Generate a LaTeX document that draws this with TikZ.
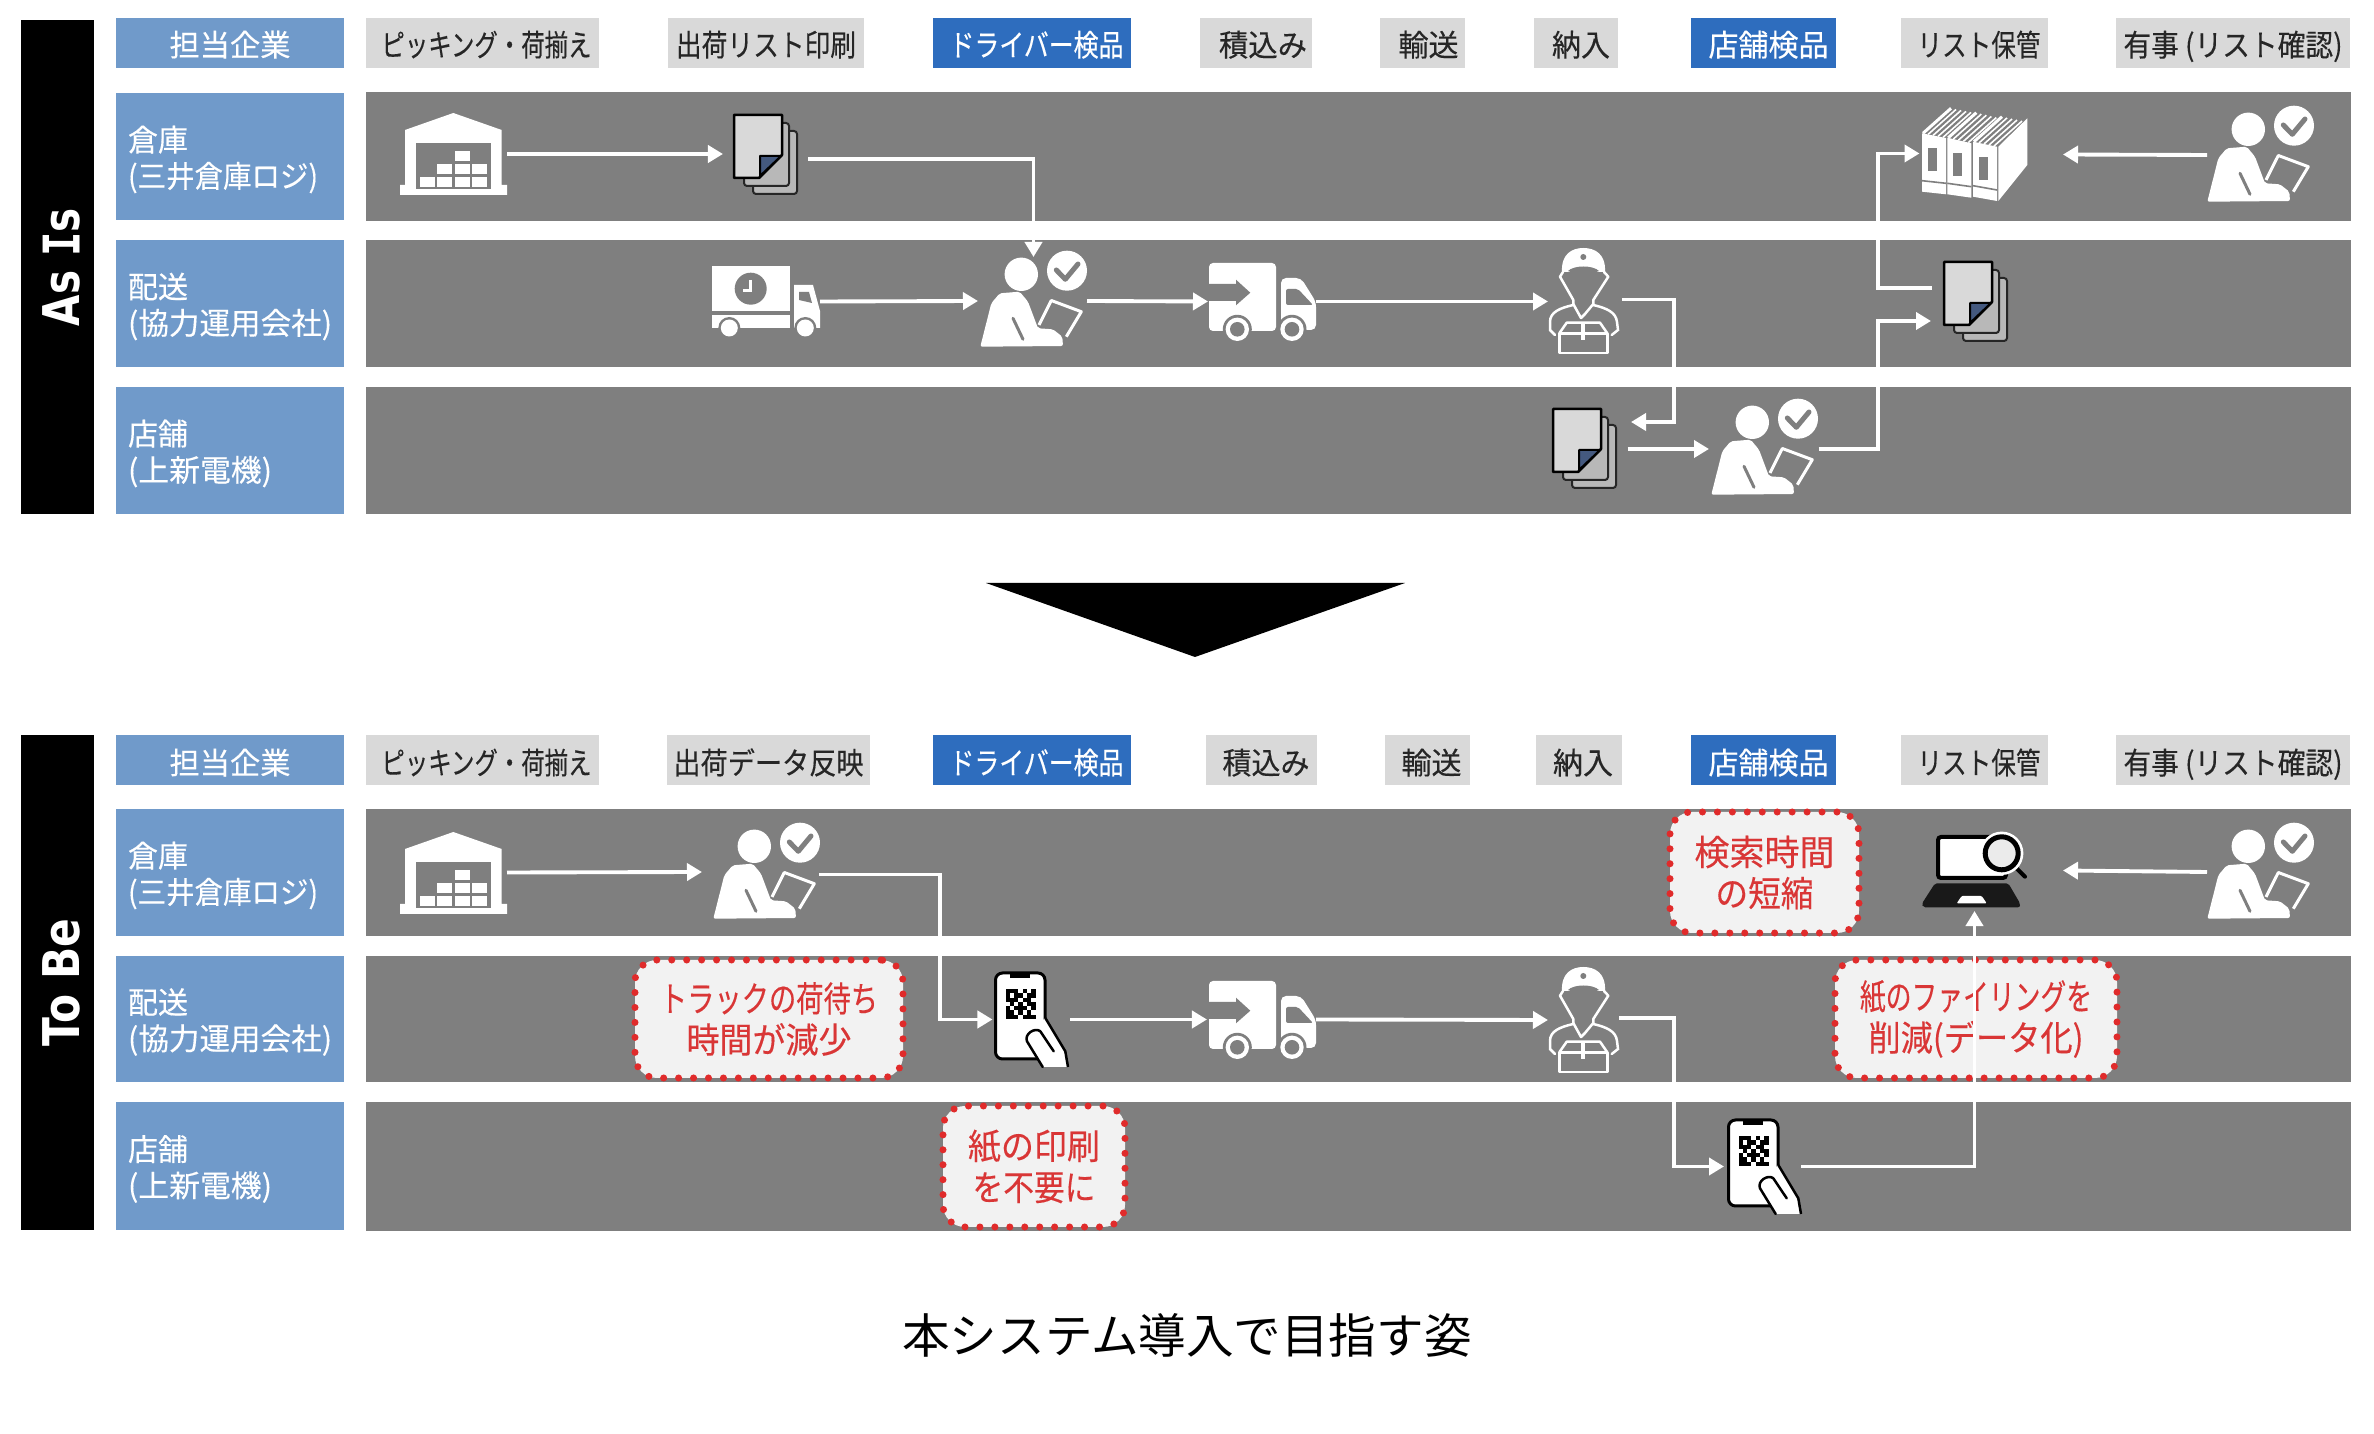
\documentclass[tikz,border=0pt]{standalone}
\usepackage{fontspec}
\setmainfont{Noto Sans CJK JP}[FakeBold=0.3]
\newfontfamily\capfont{Noto Sans CJK JP}
\newfontfamily\barsans{DejaVu Sans}
\newfontfamily\barmono{DejaVu Sans Mono}
\usetikzlibrary{arrows.meta,calc}
\newcommand\px{0.01cm}
\definecolor{bandgray}{HTML}{7F7F7F}
\definecolor{labelblue}{HTML}{709ACA}
\definecolor{headgray}{HTML}{D9D9D9}
\definecolor{headblue}{HTML}{2E6DBE}
\definecolor{callred}{HTML}{E02B2B}
\definecolor{calltext}{HTML}{D93636}
\definecolor{callfill}{HTML}{F2F2F2}
\definecolor{foldblue}{HTML}{44597F}
\newlength\nxu \setlength\nxu{0.569pt}
\newcommand\nx[1]{\hspace*{#1\nxu}}
\newcommand\fitw[2]{\sbox0{#2}\pgfmathsetmacro\fitr{#1*0.28453/(\the\wd0)}\scalebox{\fitr}[1]{\usebox0}}
\newcommand\hdfont{\fontsize{8.6pt}{10.3pt}\selectfont}
\newcommand\bx[7]{\node[#1,minimum width={(#5-(#3))*\px},minimum height={(#6-(#4))*\px}] (#2) at ({(#3+#5)/2},{(#4+#6)/2}) {#7};}
\tikzset{
  base/.style={inner sep=0pt,outer sep=0pt},
  bandbox/.style={base,fill=bandgray},
  iconbox/.style={base},
  barbox/.style={base,fill=black,text=white},
  headbox/.style={base,fill=labelblue,text=white,font=\hdfont,text height=7.5pt,text depth=0pt},
  stepgray/.style={base,fill=headgray,text=black!85,font=\hdfont,text height=7.5pt,text depth=0pt},
  stepblue/.style={base,fill=headblue,text=white,font=\hdfont,text height=7.5pt,text depth=0pt},
  tb/.style={text height=8pt},
  rowbox/.style={base,fill=labelblue},
  rowtext/.style={base,anchor=west,text=white,font=\hdfont,align=left},
  callout/.style={base,draw=callred,fill=callfill,line width=2pt,dash pattern=on 0pt off 4.25pt,line cap=round,rounded corners=2.2mm,align=center,text=calltext,font=\fontsize{10pt}{11.7pt}\selectfont},
  flow/.style={draw=white,line width=1.1pt,-{Triangle[length=1.5mm,width=1.7mm]}},
  warehouse/.pic={
    \fill[white] (5,17)--(53.3,0)--(101.7,17)--(101.7,72)--(107,72)--(107,82)--(0,82)--(0,72)--(5,72)--cycle;
    \fill[bandgray] (16,30) rectangle (91,76);
    \foreach \a/\b in {20/64,37.3/64,55/64,72.3/64,37.3/51,55/51,72.3/51,55/38}{
      \fill[white] (\a,\b) rectangle ++(14.5,10);}
  },
  docstack/.pic={
    \draw[black!85,fill=headgray!85!black,line width=2*\px,rounded corners=3*\px] (20,17) rectangle (64,80);
    \draw[black!85,fill=headgray!85!black,line width=2*\px,rounded corners=3*\px] (11,9) rectangle (56,72);
    \draw[black,fill=headgray,line width=2.5*\px,line join=round] (1,1)--(49,1)--(49,41)--(26,64)--(1,64)--cycle;
    \draw[black,fill=foldblue,line width=2*\px,line join=round] (27,62)--(27,42)--(48,42)--cycle;
  },
  person/.pic={
    \fill[white] (41.3,22.3) circle (16.7);
    \fill[white] (87,18.7) circle (20);
    \draw[bandgray,line width=5*\px,line join=round,line cap=round] (76.3,18)--(85.3,27.3)--(98,12);
    \fill[white,rounded corners=2*\px] (0.3,94.7)--(11.3,51.3)--(19.7,41.3)--(39.7,39.7)--(48,49.7)--(58,76.3)--(73,77.3)--(82.3,84.7)--(83,94)--cycle;
    \draw[bandgray,line width=3*\px,line cap=round] (33,66.3)--(43,87.3);
    \draw[white,line width=3*\px,line join=round] (59,73)--(71.3,48.5)--(101.3,59.7)--(86.3,84.7);
  },
  clocktruck/.pic={
    \fill[white] (0,0) rectangle (78,45);
    \fill[white] (0,49) rectangle (78,62);
    \fill[bandgray] (38.7,22.7) circle (16);
    \draw[white,line width=2.5*\px] (38.7,14)--(38.7,24.3)--(30.7,24.3);
    \fill[white] (82,19)--(101,19)--(108,45)--(108,62)--(82,62)--cycle;
    \fill[bandgray] (87,26)--(97,26)--(100,37)--(87,34)--cycle;
    \foreach \a in {17.3,93.3}{
      \fill[bandgray] (\a,62) circle (11);
      \fill[white] (\a,62) circle (8.5);}
  },
  cargotruck/.pic={
    \fill[white,rounded corners=4*\px] (0,1) rectangle (67,69);
    \fill[bandgray] (-0.5,22)--(27,22)--(27,17.7)--(41.3,30.7)--(27,43.3)--(27,39)--(-0.5,39)--cycle;
    \fill[white,rounded corners=5*\px] (72,16)--(92,16)--(107,40)--(107,68)--(72,68)--cycle;
    \fill[bandgray,rounded corners=2*\px] (77,27)--(89,27)--(104,43)--(77,43)--cycle;
    \foreach \a in {28.3,83}{
      \fill[bandgray] (\a,67.3) circle (14.5);
      \fill[white] (\a,67.3) circle (11.7);
      \fill[bandgray] (\a,67.3) circle (7.3);}
  },
  courier/.pic={
    \fill[white] (14,24) .. controls (13,6) and (24,0) .. (35.3,0) .. controls (47,0) and (58,6) .. (57,24) -- cycle;
    \fill[bandgray] (35.3,9) circle (3);
    \fill[bandgray] (20,23) .. controls (26,17) and (45,17) .. (51,23) .. controls (45,26) and (26,26) .. (20,23) -- cycle;
    \draw[white,line width=2.5*\px,line join=round,line cap=round] (15,24)--(12,28.7)--(25.3,52)--(25.3,57);
    \draw[white,line width=2.5*\px,line join=round,line cap=round] (56,24)--(60.3,28.7)--(45.3,52)--(45.3,57);
    \draw[white,line width=2.5*\px,line join=round,line cap=round] (25.3,56)--(33,70)--(37,66)--(45.3,56);
    \draw[white,line width=2.5*\px,line cap=round] (25.3,57) .. controls (12,60) and (2,64) .. (2,74) -- (2,82) -- (7,87);
    \draw[white,line width=2.5*\px,line cap=round] (45.3,57) .. controls (58,60) and (68,64) .. (69,74) -- (70,82) -- (63.7,87);
    \draw[white,line width=2.5*\px,line join=round] (11.3,85.3) rectangle (59.3,105);
    \draw[white,line width=2.5*\px,line join=round] (11.3,85.3)--(18.7,74.7)--(52,74.7)--(59.3,85.3);
    \draw[white,line width=4*\px] (35.3,75)--(35.3,92);
  },
  binders/.pic={
    \foreach \xa/\ta/\tb/\ba/\bb in {0/26.3/31/84.7/87.3,25.3/30.7/36.3/87.3/90.7,51/34.7/39.7/89.7/94}{
      \foreach \t in {6,11,16,21}{
        \draw[white,line width=1.6*\px] ({\xa+\t},{\ta+(\tb-\ta)*\t/24}) -- ++(28,-25);}
      \draw[white,line width=3*\px] (\xa+1,\ta) -- ++(28,-25);
      \fill[white] (\xa,\ta) -- ({\xa+24},\tb) -- ({\xa+24},\bb) -- (\xa,\ba) -- cycle;
      \fill[bandgray] ({\xa+6},{\ta+15}) rectangle ({\xa+15},{\ta+38});
      \draw[bandgray,line width=1.6*\px] (\xa,{\ba-11}) -- ({\xa+24},{\bb-11});
    }
    \fill[white] (76.3,39.7)--(105.3,11.3)--(105.3,58)--(76.3,94)--cycle;
  },
  phone/.pic={
    \draw[black,fill=white,line width=3*\px,rounded corners=7*\px] (0.5,1) rectangle (50,87);
    \fill[black] (15.3,1) rectangle (35.3,6);
    \foreach \a/\b in {0/0,1/0,2/0,4/0,6/0,0/1,2/1,3/1,5/1,6/1,0/2,1/2,2/2,4/2,5/2,1/3,3/3,5/3,6/3,0/4,2/4,3/4,4/4,6/4,0/5,1/5,3/5,5/5,0/6,1/6,2/6,4/6,5/6,6/6}{
      \fill[black] ({10.5+\a*4.3},{17+\b*4.3}) rectangle ++(4.3,4.3);}
    \fill[white] (50.3,46)--(70.3,79.3)--(73,95)--(47.7,95)--(32,69.3)--(38,57)--cycle;
    \draw[black,line width=2.5*\px,line join=round] (50.3,46)--(70.3,79.3)--(73,95);
    \draw[black,line width=2.5*\px,line join=round,line cap=round] (47.7,95)--(32,69.3) .. controls (29,62) and (40,55) .. (45.3,59.3)--(58.7,79.3);
  },
  laptop/.pic={
    \draw[black,fill=white,line width=4*\px,rounded corners=3*\px] (16,5) rectangle (84,46);
    \draw[black,line width=4*\px,line cap=round] (93,34.7)--(103,44.7);
    \fill[white] (79.7,21.3) circle (21.7);
    \draw[black,fill=white!92!black,line width=5*\px] (79.7,21.3) circle (16.5);
    \fill[black!90,rounded corners=2*\px] (13,51.3)--(86.3,51.3)--(98,71.3)--(98,75.3)--(1.3,75.3)--(-0.3,72)--cycle;
    \fill[white,rounded corners=1*\px] (39.7,64)--(59.7,64)--(64.7,71.3)--(34.7,71.3)--cycle;
  }
}
\begin{document}
\begin{tikzpicture}[x=0.01cm,y=-0.01cm]
\useasboundingbox (0,0) rectangle (2374,1434);
\fill[white] (0,0) rectangle (2374,1434);

% ---------- As Is frame
\bx{barbox}{barA}{21}{20}{94}{514}{\nx{4}\rotatebox{90}{\fontsize{14.4pt}{16pt}\selectfont\bfseries\fitw{118}{\barsans As {\barmono I}s}}}
\bx{headbox}{hA0}{116}{18}{344}{68}{\fitw{121}{担当企業}}
\bx{stepgray}{hA1}{366}{18}{599}{68}{\nx{4}\fitw{210}{ピッキング・荷揃え}}
\bx{stepgray}{hA2}{668}{18}{864}{68}{\fitw{180}{出荷リスト印刷}}
\bx{stepblue}{hA3}{933}{18}{1131}{68}{\nx{4.5}\fitw{174}{ドライバー検品}}
\bx{stepgray}{hA4}{1200}{18}{1312}{68}{\nx{7}\fitw{88}{積込み}}
\bx{stepgray}{hA5}{1380}{18}{1465}{68}{\nx{6}\fitw{60}{輸送}}
\bx{stepgray}{hA6}{1534}{18}{1618}{68}{\nx{5}\fitw{58}{納入}}
\bx{stepblue}{hA7}{1691}{18}{1836}{68}{\nx{5}\fitw{120}{店舗検品}}
\bx{stepgray}{hA8}{1901}{18}{2048}{68}{\nx{4.5}\fitw{123}{リスト保管}}
\bx{stepgray}{hA9}{2116}{18}{2350}{68}{\fitw{219}{有事 (リスト確認)}}
\bx{rowbox}{rA1}{116}{93}{344}{220}{}
\bx{rowbox}{rA2}{116}{240}{344}{367}{}
\bx{rowbox}{rA3}{116}{387}{344}{514}{}
\node[rowtext] (tA1) at (128,159.5) {\fitw{60}{倉庫}\\[0pt]\fitw{190}{(三井倉庫ロジ)}};
\node[rowtext] (tA2) at (128,306.5) {\fitw{60}{配送}\\[0pt]\fitw{204}{(協力運用会社)}};
\node[rowtext] (tA3) at (128,453.5) {\fitw{60}{店舗}\\[0pt]\fitw{144}{(上新電機)}};
\bx{bandbox}{bA1}{366}{92}{2351}{221}{}
\bx{bandbox}{bA2}{366}{240}{2351}{367}{}
\bx{bandbox}{bA3}{366}{387}{2351}{514}{}

\fill[black] (986,583)--(1405,583)--(1195,657)--cycle;

% ---------- To Be frame
\bx{barbox}{barB}{21}{735}{94}{1230}{\nx{4}\rotatebox{90}{\fontsize{14.4pt}{16pt}\selectfont\bfseries\fitw{128}{\barsans To Be}}}
\bx{headbox,tb}{hB0}{116}{735}{344}{785}{\fitw{121}{担当企業}}
\bx{stepgray,tb}{hB1}{366}{735}{599}{785}{\nx{4}\fitw{210}{ピッキング・荷揃え}}
\bx{stepgray,tb}{hB2}{667}{735}{870}{785}{\fitw{190}{出荷データ反映}}
\bx{stepblue,tb}{hB3}{933}{735}{1131}{785}{\nx{4.5}\fitw{174}{ドライバー検品}}
\bx{stepgray,tb}{hB4}{1206}{735}{1317}{785}{\nx{4.5}\fitw{87}{積込み}}
\bx{stepgray,tb}{hB5}{1385}{735}{1470}{785}{\nx{4}\fitw{60}{輸送}}
\bx{stepgray,tb}{hB6}{1536}{735}{1622}{785}{\nx{4}\fitw{60}{納入}}
\bx{stepblue,tb}{hB7}{1691}{735}{1836}{785}{\nx{5}\fitw{120}{店舗検品}}
\bx{stepgray,tb}{hB8}{1901}{735}{2048}{785}{\nx{4.5}\fitw{123}{リスト保管}}
\bx{stepgray,tb}{hB9}{2116}{735}{2350}{785}{\fitw{219}{有事 (リスト確認)}}
\bx{rowbox}{rB1}{116}{809}{344}{936}{}
\bx{rowbox}{rB2}{116}{956}{344}{1082}{}
\bx{rowbox}{rB3}{116}{1102}{344}{1230}{}
\node[rowtext] (tB1) at (128,875.5) {\fitw{60}{倉庫}\\[0pt]\fitw{190}{(三井倉庫ロジ)}};
\node[rowtext] (tB2) at (128,1022) {\fitw{60}{配送}\\[0pt]\fitw{204}{(協力運用会社)}};
\node[rowtext] (tB3) at (128,1169) {\fitw{60}{店舗}\\[0pt]\fitw{144}{(上新電機)}};
\bx{bandbox}{bB1}{366}{809}{2351}{936}{}
\bx{bandbox}{bB2}{366}{956}{2351}{1082}{}
\bx{bandbox}{bB3}{366}{1102}{2351}{1231}{}

% ---------- Callouts
\bx{callout}{c1}{635}{960}{903}{1078}{\fitw{218}{トラックの荷待ち}\\\fitw{165}{時間が減少}}
\bx{callout}{c2}{943}{1106}{1125}{1227}{\fitw{132}{紙の印刷}\\\fitw{123}{を不要に}}
\bx{callout}{c3}{1670}{812}{1859}{933}{\fitw{140}{検索時間}\\\fitw{98}{の短縮}}
\bx{callout}{c4}{1835}{960}{2117}{1078}{\fitw{232}{紙のファイリングを}\\\fitw{215}{削減(データ化)}}

% ---------- Icons, As Is
\bx{iconbox}{wh1}{400}{113}{507}{195}{}
\pic at (wh1.north west) {warehouse};
\bx{iconbox}{doc1}{733}{114}{798}{194}{}
\pic at (doc1.north west) {docstack};
\bx{iconbox}{ck}{712}{266}{820}{337}{}
\pic at (ck.north west) {clocktruck};
\bx{iconbox}{p1}{980}{252}{1087}{350}{}
\pic at (p1.north west) {person};
\bx{iconbox}{tr1}{1209}{262}{1316}{341}{}
\pic at (tr1.north west) {cargotruck};
\bx{iconbox}{cr1}{1548}{248}{1619}{355}{}
\pic at (cr1.north west) {courier};
\bx{iconbox}{doc3}{1552}{408}{1616}{488}{}
\pic at (doc3.north west) {docstack};
\bx{iconbox}{p3}{1711}{400}{1816}{496}{}
\pic at (p3.north west) {person};
\bx{iconbox}{doc2}{1943}{261}{2007}{341}{}
\pic at (doc2.north west) {docstack};
\bx{iconbox}{bin}{1922}{107}{2027}{202}{}
\pic at (bin.north west) {binders};
\bx{iconbox}{p2}{2207}{107}{2313}{203}{}
\pic at (p2.north west) {person};

% ---------- Icons, To Be
\bx{iconbox}{wh2}{400}{832}{507}{913}{}
\pic at (wh2.north west) {warehouse};
\bx{iconbox}{p4}{713}{824}{819}{920}{}
\pic at (p4.north west) {person};
\bx{iconbox}{ph1}{995}{972}{1070}{1067}{}
\pic at (ph1.north west) {phone};
\bx{iconbox}{tr2}{1209}{980}{1316}{1059}{}
\pic at (tr2.north west) {cargotruck};
\bx{iconbox}{cr2}{1548}{967}{1619}{1073}{}
\pic at (cr2.north west) {courier};
\bx{iconbox}{ph2}{1728}{1119}{1801}{1214}{}
\pic at (ph2.north west) {phone};
\bx{iconbox}{lap}{1922}{832}{2027}{909}{}
\pic at (lap.north west) {laptop};
\bx{iconbox}{p5}{2207}{824}{2313}{920}{}
\pic at (p5.north west) {person};

% ---------- Connectors, As Is
\draw[flow] (wh1.east) -- ($(doc1.west)+(-10,0)$);
\draw[flow] ($(doc1.east)+(10,5)$) -| ($(p1.north)+(0,5)$);
\draw[flow] (ck.east) -- ($(p1.west)+(-2,0)$);
\draw[flow] (p1.east) -- ($(tr1.west)+(-1,0)$);
\draw[flow] (tr1.east) -- (cr1.west);
\draw[flow] ($(cr1.east)+(3,-2)$) -| ($(doc3.east)+(58,-26)$) -- ($(doc3.east)+(15,-26)$);
\draw[flow] ($(doc3.east)+(11.5,1)$) -- ($(p3.west)+(-2,1)$);
\draw[flow] ($(p3.east)+(2.5,1)$) -| ($(doc2.west)+(-65,20)$) -- ($(doc2.west)+(-12,20)$);
\draw[flow] ($(doc2.west)+(-11.5,-13)$) -- ($(doc2.west)+(-65,-13)$) |- ($(bin.west)+(-2.5,-1)$);
\draw[flow] (p2.west) -- ($(bin.east)+(36,0)$);

% ---------- Connectors, To Be
\draw[flow] (wh2.east) -- ($(p4.west)+(-11,0)$);
\draw[flow] ($(p4.east)+(0,2.5)$) -| ($(ph1.west)+(-55,0)$) -- ($(ph1.west)+(-2.5,0)$);
\draw[flow] (ph1.east) -- ($(tr2.west)+(-2,0)$);
\draw[flow] (tr2.east) -- (cr2.west);
\draw[flow] ($(cr2.east)+(0,-2)$) -| ($(ph2.west)+(-54,0)$) -- ($(ph2.west)+(-4,0)$);
\draw[flow] (ph2.east) -| ($(lap.south)+(0,2)$);
\draw[flow] (p5.west) -- ($(lap.east)+(36,0)$);

% ---------- Caption
\node[base,font=\capfont\fontsize{13.5pt}{15pt}\selectfont,text=black] (cap) at (1187,1335) {\fitw{569}{本システム導入で目指す姿}};
\end{tikzpicture}
\end{document}
